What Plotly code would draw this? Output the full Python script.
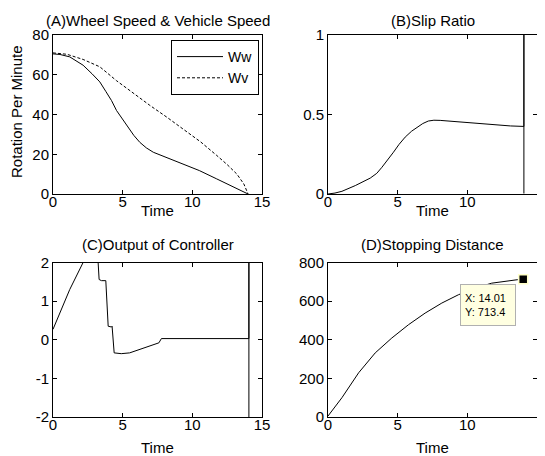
import plotly.graph_objects as go

# window size and page body offset (browser default body margin)
WIN_W, WIN_H = 545, 456
OFF = 8
W, H = WIN_W - OFF, WIN_H - OFF

# ---- Panel A: wheel speed / vehicle speed ----
t_ww = [0, 0.5, 1.2, 2.16, 2.8, 3.36, 3.8, 4.2, 4.56, 5.0, 5.4, 5.8, 6.23, 6.7, 7.2, 8.0, 9.35, 10.5, 11.75, 12.8, 13.9, 14.0]
ww = [70.5, 70.2, 69, 64.8, 60.5, 56.4, 51.5, 47, 42, 37.5, 33.7, 29.5, 26, 23.2, 21, 18.8, 15.2, 11.8, 7.6, 4.2, 0.5, 0]
t_wv = [0, 1.0, 2.16, 3.36, 4.56, 5.8, 6.95, 8.2, 9.35, 10.6, 11.75, 12.5, 13.2, 13.7, 14.0]
wv = [71, 70.3, 67.7, 64, 57, 50.5, 44.6, 38.5, 32.8, 26.2, 19.4, 14.8, 10, 5, 0]

# ---- Panel B: slip ratio ----
t_slip = [0, 0.5, 1.0, 1.96, 3.03, 3.5, 3.87, 4.3, 4.7, 5.1, 5.54, 6.0, 6.38, 6.8, 7.2, 7.6, 8.05, 8.7, 9.36, 10.0, 10.79, 11.5, 12.2, 13.1, 14.06, 14.06, 14.06]
slip = [0, 0.006, 0.017, 0.053, 0.1, 0.13, 0.168, 0.215, 0.263, 0.312, 0.358, 0.395, 0.42, 0.443, 0.459, 0.464, 0.463, 0.458, 0.453, 0.449, 0.442, 0.437, 0.432, 0.428, 0.425, 1.2, 0.003]

# ---- Panel C: controller output ----
t_ctl = [0, 0.48, 1.2, 2.16, 3.12, 3.24, 3.31, 3.48, 3.79, 3.89, 3.96, 4.2, 4.24, 4.39, 4.9, 5.5, 6.23, 6.95, 7.6, 7.78, 14.06, 14.06, 14.06]
ctl = [0.27, 0.7, 1.30, 2.0, 2.0, 2.0, 1.56, 1.53, 1.53, 0.57, 0.35, 0.33, 0.35, -0.34, -0.36, -0.34, -0.25, -0.16, -0.08, 0.03, 0.03, 2.5, -2.5]

# ---- Panel D: stopping distance ----
t_dist = [0, 1.0, 2.2, 3.39, 4.58, 5.78, 6.97, 8.17, 9.36, 10.56, 11.75, 12.95, 13.6, 14.01]
dist = [5, 100, 229, 332, 409, 478, 538, 590, 633, 667, 693, 707, 711, 713.4]
tip_x = [14.01]
tip_y = [713.4]

titles = ["(A)Wheel Speed & Vehicle Speed", "(B)Slip Ratio", "(C)Output of Controller", "(D)Stopping Distance"]
ctl_ticks = [-2, -1, 0, 1, 2]
ctl_ticktext = ["-2", "-1", "0", "1", "2"]

FONT = "Liberation Sans, Arial, sans-serif"
FS = 15
fig = go.Figure()

fig.add_trace(go.Scatter(x=t_ww, y=ww, mode="lines", name="Ww",
                         line=dict(color="black", width=1), xaxis="x", yaxis="y"))
fig.add_trace(go.Scatter(x=t_wv, y=wv, mode="lines", name="Wv",
                         line=dict(color="black", width=1, dash="3px,2px"), xaxis="x", yaxis="y"))
fig.add_trace(go.Scatter(x=t_slip, y=slip, mode="lines", showlegend=False,
                         line=dict(color="black", width=1), xaxis="x2", yaxis="y2"))
fig.add_trace(go.Scatter(x=t_ctl, y=ctl, mode="lines", showlegend=False,
                         line=dict(color="black", width=1), xaxis="x3", yaxis="y3"))
fig.add_trace(go.Scatter(x=t_dist, y=dist, mode="lines", showlegend=False,
                         line=dict(color="black", width=1), xaxis="x4", yaxis="y4"))
fig.add_trace(go.Scatter(x=tip_x, y=tip_y, mode="markers", showlegend=False,
                         marker=dict(symbol="square", size=9, color="black",
                                     line=dict(color="#ffffc8", width=1.5)),
                         xaxis="x4", yaxis="y4", cliponaxis=False))

# domains from screenshot pixel positions
def px_x(p): return (p - OFF) / W
def px_y(p): return 1 - (p - OFF) / H

dom_x = [(px_x(53), px_x(262)), (px_x(328), px_x(537))]
dom_y = [(px_y(194), px_y(35)), (px_y(417), px_y(262.5))]

axcommon = dict(showline=True, linecolor="black", linewidth=1, mirror="ticks",
                ticks="inside", ticklen=4, tickcolor="black", showgrid=False,
                zeroline=False, automargin=False,
                tickfont=dict(family=FONT, size=FS, color="black"))

xr = [0, 15]
xt = [0, 5, 10, 15]
layout = dict(
    width=W, height=H, margin=dict(l=0, r=0, t=0, b=0, autoexpand=False),
    plot_bgcolor="white", paper_bgcolor="white",
    font=dict(family=FONT, size=FS, color="black"),
    showlegend=True,
    legend=dict(x=px_x(259), y=px_y(40), xanchor="right", yanchor="top",
                bordercolor="black", borderwidth=1, bgcolor="white",
                font=dict(family=FONT, size=14), tracegroupgap=0,
                itemwidth=46),
)
layout["xaxis"] = dict(domain=dom_x[0], anchor="y", range=xr, tickvals=xt, ticklabelstandoff=-6, **axcommon)
layout["yaxis"] = dict(domain=dom_y[0], anchor="x", range=[0, 80], tickvals=[0, 20, 40, 60, 80], **axcommon)
layout["xaxis2"] = dict(domain=dom_x[1], anchor="y2", range=xr, tickvals=xt, ticklabelstandoff=-6, **axcommon)
layout["yaxis2"] = dict(domain=dom_y[0], anchor="x2", range=[0, 1], tickvals=[0, 0.5, 1], ticktext=["0", "0.5", "1"], **axcommon)
layout["xaxis3"] = dict(domain=dom_x[0], anchor="y3", range=xr, tickvals=xt, ticklabelstandoff=-6, **axcommon)
layout["yaxis3"] = dict(domain=dom_y[1], anchor="x3", range=[-2, 2], tickvals=ctl_ticks, ticktext=ctl_ticktext, **axcommon)
layout["xaxis4"] = dict(domain=dom_x[1], anchor="y4", range=xr, tickvals=xt, ticklabelstandoff=-6, **axcommon)
layout["yaxis4"] = dict(domain=dom_y[1], anchor="x4", range=[0, 800], tickvals=[0, 200, 400, 600, 800], **axcommon)
fig.update_layout(**layout)

ann = []
cx = [px_x(157.5), px_x(432.5)]
# subplot titles
for i, (x, y) in enumerate([(cx[0], 20), (cx[1], 20), (cx[0], 245), (cx[1], 245)]):
    ann.append(dict(text=titles[i], x=x, y=px_y(y), xref="paper", yref="paper",
                    showarrow=False, xanchor="center", yanchor="middle",
                    font=dict(family=FONT, size=FS)))
# x titles
for x, y in [(cx[0], 210), (cx[1], 210), (cx[0], 447), (cx[1], 447)]:
    ann.append(dict(text="Time", x=x, y=px_y(y), xref="paper", yref="paper",
                    showarrow=False, xanchor="center", yanchor="middle",
                    font=dict(family=FONT, size=FS)))
# y title
ann.append(dict(text="Rotation Per Minute", x=px_x(16), y=px_y(112), xref="paper", yref="paper",
                showarrow=False, textangle=-90, xanchor="center", yanchor="middle",
                font=dict(family=FONT, size=15)))
# data tip
ann.append(dict(text="X: %.2f<br>Y: %.1f" % (tip_x[0], tip_y[0]), x=px_x(460), y=px_y(284),
                xref="paper", yref="paper", showarrow=False, xanchor="left", yanchor="top",
                align="left", bgcolor="#ffffe1", bordercolor="#b0b0b0", borderwidth=1,
                borderpad=4, width=46, height=32,
                font=dict(family=FONT, size=11)))
fig.update_layout(annotations=ann)

fig.write_html("out.html")
